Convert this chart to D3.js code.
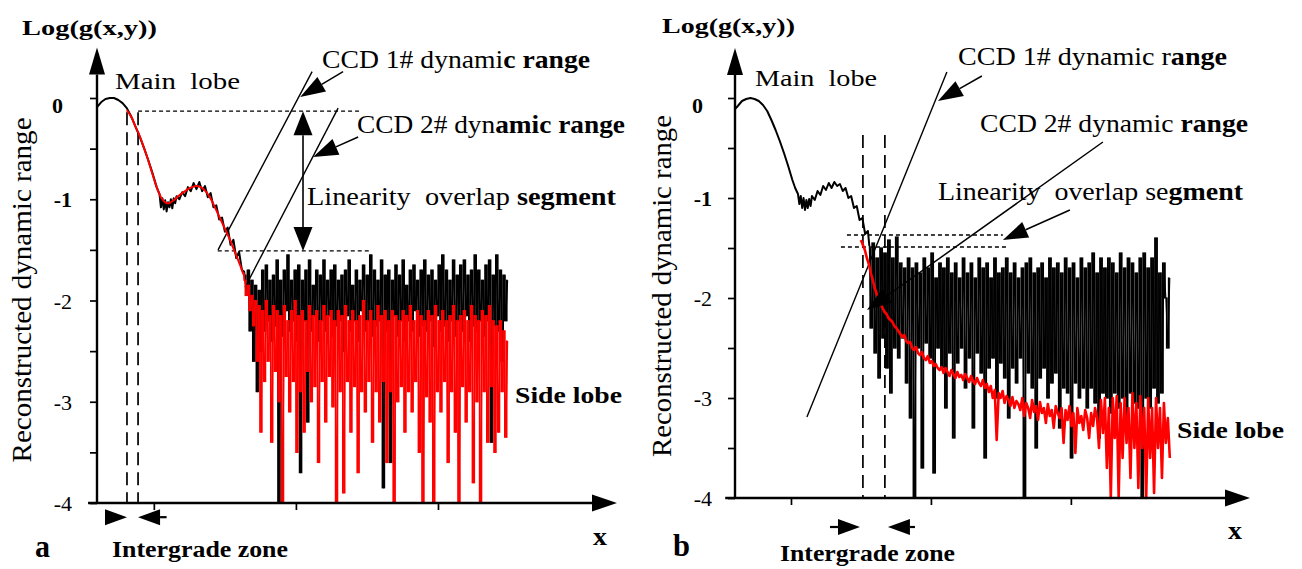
<!DOCTYPE html>
<html><head><meta charset="utf-8">
<script src="https://cdn.jsdelivr.net/npm/d3@7"></script>
<style>
body{margin:0;background:#fff}
text{font-family:"Liberation Serif","Times New Roman",serif;white-space:pre;fill:#000}
</style>
</head><body>
<svg id="chart" width="1302" height="569"></svg>
<script>
// ---------------- DATA ----------------
const yTickValues = [0,-0.5,-1,-1.5,-2,-2.5,-3,-3.5,-4];
const yMajorValues = [0,-1,-2,-3,-4];
const yMajorLabels = ["0","-1","-2","-3","-4"];
const yLabelBold = [true,true,false,false,false];
const xTicksA = [40,140,240];
const xTicksB = [40,140,240];

// Panel a : black smooth part (main lobe + first side lobe)
const blackA_smX = [0,3,6,9,12,15,18,21,24,27,30,33,36,39,42,44,45,46,47,48,49,50,51,52,53,54,55,56,58,60,62,64,66,68,70,72,74,76,78,80,82,84,86,88,90,92,94,96,98,100,102,104];
const blackA_smY = [-0.09,-0.04,-0.01,0,0,-0.02,-0.05,-0.1,-0.18,-0.28,-0.38,-0.49,-0.61,-0.74,-0.88,-0.95,-1.08,-0.99,-1.1,-1.01,-1.12,-1.03,-1.08,-1.0,-1.09,-0.99,-1.04,-0.97,-1.0,-0.93,-0.97,-0.88,-0.92,-0.84,-0.9,-0.83,-0.92,-0.87,-0.98,-0.94,-1.08,-1.06,-1.2,-1.18,-1.32,-1.28,-1.45,-1.4,-1.58,-1.52,-1.7,-1.72];
// Panel a : red smooth part
const redA_smX = [21,23,25,27,29,31,33,35,37,39,41,43,45,47,49,51,53,55,57,59,61,63,65,67,69,71,73,75,77,79,81,83,85,87,89,91,93,95,97,99,101,103];
const redA_smY = [-0.12,-0.16,-0.21,-0.28,-0.34,-0.41,-0.49,-0.57,-0.66,-0.75,-0.84,-0.92,-0.98,-1.02,-1.04,-1.04,-1.02,-1.0,-0.97,-0.95,-0.93,-0.91,-0.89,-0.88,-0.87,-0.87,-0.88,-0.9,-0.93,-0.97,-1.02,-1.08,-1.14,-1.2,-1.26,-1.32,-1.38,-1.45,-1.52,-1.59,-1.66,-1.74];
// Panel a : noisy side-lobe region, evenly spaced samples from x=104 to x=289
const noiseA_range = [104,289];
const blackA_noise = [
-1.75,-1.95,-1.7,-2.3,-1.8,-2.6,-1.85,-2.9,-1.9,-2.5,
-1.7,-2.3,-1.65,-2.2,-1.8,-2.4,-1.75,-2.25,-1.6,-4.0,
-1.8,-2.35,-1.7,-2.1,-1.55,-2.3,-1.8,-2.2,-1.7,-2.4,
-1.65,-3.7,-1.8,-2.2,-1.7,-3.2,-1.6,-2.3,-1.85,-2.15,
-1.7,-2.4,-1.75,-2.2,-1.6,-2.3,-1.8,-2.15,-1.7,-2.35,
-1.65,-2.25,-1.8,-2.2,-1.75,-2.5,-1.7,-2.15,-1.6,-2.3,
-1.85,-2.2,-1.7,-2.4,-1.8,-2.1,-1.65,-2.3,-1.75,-2.2,
-1.55,-2.35,-1.7,-2.25,-1.8,-2.2,-1.6,-3.85,-1.75,-2.3,
-1.7,-3.6,-1.8,-2.15,-1.65,-2.35,-1.75,-2.2,-1.6,-2.4,
-1.85,-2.2,-1.7,-2.3,-1.65,-2.1,-1.8,-2.35,-1.7,-2.25,
-1.6,-2.3,-1.75,-2.2,-1.7,-2.45,-1.8,-2.15,-1.65,-2.3,
-1.55,-2.25,-1.7,-2.4,-1.8,-2.2,-1.6,-2.35,-1.75,-2.2,
-1.65,-2.3,-1.6,-2.15,-1.75,-2.4,-1.7,-2.25,-1.55,-2.3,
-1.7,-2.2,-1.8,-2.35,-1.65,-2.2,-1.6,-3.4,-1.75,-2.25,
-1.55,-2.3,-1.7,-2.6,-1.75,-2.2,-1.8];
const redA_noise = [
-1.8,-1.95,-1.85,-2.1,-1.95,-2.25,-2.0,-2.6,-2.05,-3.3,
-2.1,-2.8,-2.0,-2.6,-2.15,-3.4,-2.05,-2.7,-2.1,-3.0,
-2.15,-4.0,-2.05,-2.75,-2.2,-3.1,-2.1,-2.8,-2.0,-3.5,
-2.15,-2.9,-2.1,-3.3,-2.2,-2.7,-2.05,-3.0,-2.15,-2.85,
-2.1,-3.6,-2.2,-2.8,-2.05,-3.2,-2.15,-2.75,-2.1,-3.05,
-2.2,-4.0,-2.1,-2.9,-2.15,-3.9,-2.05,-2.8,-2.2,-3.3,
-2.1,-2.85,-2.2,-3.7,-2.15,-2.9,-2.0,-3.1,-2.2,-2.8,
-2.1,-3.4,-2.2,-2.9,-2.05,-3.2,-2.15,-2.8,-2.1,-3.6,
-2.2,-2.9,-2.1,-4.0,-2.15,-3.0,-2.2,-2.85,-2.1,-3.3,
-2.15,-2.9,-2.05,-3.1,-2.2,-2.8,-2.1,-3.5,-2.15,-4.0,
-2.2,-2.95,-2.1,-3.2,-2.15,-4.0,-2.05,-2.9,-2.2,-3.1,
-2.1,-2.8,-2.2,-3.6,-2.15,-2.9,-2.05,-3.3,-2.2,-4.0,
-2.15,-2.85,-2.1,-3.2,-2.2,-2.9,-2.05,-3.8,-2.15,-3.0,
-2.2,-4.0,-2.1,-2.9,-2.15,-3.4,-2.05,-2.85,-2.2,-3.5,
-2.25,-3.3,-2.2,-2.9,-2.3,-3.35,-2.4];

// Panel b : black smooth part
const blackB_smX = [0,2,5,8,11,14,17,20,23,26,29,32,35,38,41,43,45,46,47,48,49,50,51,52,53,54,55,57,59,61,63,65,67,69,71,73,75,77,79,81,83,85,87,89,91,93,95,96];
const blackB_smY = [-0.11,-0.08,-0.03,-0.01,0,-0.01,-0.03,-0.07,-0.13,-0.22,-0.32,-0.43,-0.55,-0.68,-0.82,-0.9,-0.96,-1.06,-0.98,-1.1,-1.0,-1.12,-1.02,-1.1,-1.01,-1.08,-0.98,-1.02,-0.93,-0.97,-0.88,-0.92,-0.85,-0.9,-0.84,-0.88,-0.86,-0.93,-0.9,-1.0,-0.98,-1.1,-1.08,-1.22,-1.2,-1.36,-1.33,-1.48];
// Panel b : black noisy region, evenly spaced from x=96 to x=310.7
const blackB_range = [96,310.7];
const blackB_noise = [
-1.5,-2.3,-1.45,-2.55,-1.6,-2.8,-1.5,-2.4,-1.55,-2.7,
-1.42,-2.95,-1.6,-2.5,-1.39,-2.6,-1.65,-2.4,-1.7,-2.85,
-1.6,-3.2,-1.7,-4.0,-1.65,-2.5,-1.75,-3.7,-1.6,-2.45,
-1.7,-2.6,-1.55,-3.75,-1.8,-2.5,-1.65,-2.7,-1.7,-3.1,
-1.6,-2.55,-1.75,-3.4,-1.65,-2.65,-1.8,-2.5,-1.6,-2.9,
-1.75,-2.6,-1.65,-3.3,-1.8,-2.55,-1.6,-2.75,-1.7,-3.6,
-1.65,-2.7,-1.8,-2.6,-1.6,-3.0,-1.75,-2.65,-1.7,-2.8,
-1.6,-3.2,-1.75,-2.7,-1.65,-2.85,-1.8,-2.6,-1.7,-4.0,
-1.65,-2.75,-1.6,-2.9,-1.75,-3.5,-1.7,-2.8,-1.65,-2.7,
-1.8,-3.0,-1.6,-2.85,-1.7,-2.75,-1.65,-3.3,-1.75,-2.9,
-1.6,-2.95,-1.7,-3.6,-1.65,-2.85,-1.8,-3.0,-1.6,-2.9,
-1.7,-3.1,-1.65,-2.9,-1.55,-3.05,-1.75,-3.4,-1.6,-2.95,
-1.7,-3.0,-1.6,-3.15,-1.65,-2.95,-1.75,-3.1,-1.55,-3.0,
-1.7,-3.2,-1.6,-2.95,-1.65,-3.05,-1.75,-3.1,-1.6,-4.0,
-1.55,-3.0,-1.7,-3.1,-1.6,-2.9,-1.4,-3.05,-1.75,-2.95,
-1.65,-2.0,-2.5,-1.8];
// Panel b : red curve, evenly spaced from x=90 to x=310.7
const redB_range = [90,310.7];
const redB_values = [
-1.42,-1.47,-1.52,-1.6,-1.66,-1.75,-1.82,-1.9,-1.96,-2.02,-2.06,-2.1,-2.14,-2.16,-2.2,-2.22,-2.24,-2.28,-2.3,-2.33,
-2.36,-2.39,-2.37,-2.43,-2.45,-2.44,-2.5,-2.52,-2.49,-2.55,-2.57,-2.54,-2.6,-2.62,-2.58,-2.65,-2.63,-2.68,-2.66,-2.7,
-2.72,-2.69,-2.75,-2.7,-2.74,-2.78,-2.72,-2.76,-2.8,-2.74,-2.79,-2.77,-2.82,-2.76,-2.8,-2.84,-2.78,-2.83,-2.86,-2.8,
-2.85,-2.88,-2.82,-2.9,-2.86,-2.94,-2.88,-3.0,-2.92,-3.42,-2.95,-3.0,-2.93,-3.05,-2.98,-3.02,-3.08,-2.99,-3.1,-3.03,
-3.06,-3.12,-3.0,-3.18,-3.05,-3.1,-3.2,-3.02,-3.14,-3.08,-3.22,-3.04,-3.15,-3.1,-3.25,-3.06,-3.18,-3.12,-3.3,-3.08,
-3.15,-3.2,-3.1,-3.45,-3.12,-3.22,-3.08,-3.28,-3.15,-3.55,-3.1,-3.25,-3.18,-3.32,-3.12,-3.2,-3.4,-3.15,-3.28,-3.1,
-3.2,-3.5,-3.02,-3.35,-3.0,-3.7,-3.1,-4.0,-3.0,-3.4,-2.98,-4.0,-3.05,-3.6,-3.0,-3.45,-3.1,-3.8,-2.95,-3.5,
-3.05,-3.9,-2.98,-3.5,-3.1,-4.0,-3.0,-3.6,-3.1,-3.95,-3.0,-3.5,-3.1,-3.8,-3.05,-3.45,-3.2,-3.6];

// ---------------- ANNOTATIONS (data units) ----------------
const annA = {
  dashedX:[21.1,28.9], dashedTop:-0.14,
  dotted:[[-0.13,28.9,185],[-1.51,85,192]],
  doubleArrow:[145,-0.13,-1.51],
  lines:[[[85.2,-1.50],[151.4,0.26]],[[104.2,-1.87],[169.7,-0.10]]],
  arrows:[[[173.2,0.26],[143,0.01]],[[183.8,-0.385],[152.1,-0.583]]],
  interV:-4.14, interL:[5.6,21.1], interR:[49,28.9], xStart:-6.3
};
const annB = {
  dashedX:[91.4,107.1], dashedTop:-0.37,
  dotted:[[-1.37,80,191.4],[-1.49,75.7,194.3]],
  doubleArrow:null,
  lines:[[[51.4,-3.19],[151.4,0.26]]],
  arrows:[[[176.4,0.22],[145,-0.03]],[[262.9,-0.44],[94.3,-2.12]],[[239.3,-1.12],[191.4,-1.42]]],
  interV:-4.29, interL:[67.9,89.3], interR:[128.6,109.3], xStart:-7
};

// ---------------- TEXTS ----------------
const textsA = [
  {p:[["Log(g(x,y))",1]],x:22,y:35,fs:22,w:135},
  {p:[["Main  lobe",0]],x:115,y:89,fs:24,w:125},
  {p:[["CCD 1# dynami",0],["c range",1]],x:322,y:68,fs:25,w:268},
  {p:[["CCD 2# dyn",0],["amic range",1]],x:357,y:133,fs:25,w:268},
  {p:[["Linearity  overlap ",0],["segment",1]],x:307,y:205,fs:25,w:309},
  {p:[["Side lobe",1]],x:515,y:403,fs:23,w:107},
  {p:[["a",1]],x:35,y:557,fs:31,w:15},
  {p:[["Intergrade zone",1]],x:112,y:557,fs:24,w:176},
  {p:[["x",1]],x:593,y:545,fs:25,w:14}
];
const textsB = [
  {p:[["Log(g(x,y))",1]],x:662,y:33,fs:22,w:133},
  {p:[["Main  lobe",0]],x:755,y:86,fs:24,w:122},
  {p:[["CCD 1# dynamic r",0],["ange",1]],x:958,y:65,fs:25,w:269},
  {p:[["CCD 2# dynamic ",0],["range",1]],x:980,y:132,fs:25,w:268},
  {p:[["Linearity  overlap se",0],["gment",1]],x:938,y:200,fs:25,w:305},
  {p:[["Side lobe",1]],x:1177,y:438,fs:23,w:107},
  {p:[["b",1]],x:673,y:556,fs:31,w:17},
  {p:[["Intergrade zone",1]],x:780,y:561,fs:24,w:175},
  {p:[["x",1]],x:1228,y:539,fs:25,w:14}
];
const yTitle = "Reconstructed dynamic range";

// ---------------- DRAW ----------------
const svg = d3.select("#chart");

function head(g,x1,y1,x2,y2,len,hw){
  const dx=x2-x1, dy=y2-y1, d=Math.hypot(dx,dy), ux=dx/d, uy=dy/d;
  const bx=x2-ux*len, by=y2-uy*len;
  g.append("path").attr("d",`M${x2},${y2}L${bx-uy*hw},${by+ux*hw}L${bx+uy*hw},${by-ux*hw}Z`).attr("fill","#000");
  return [bx,by];
}
function arrow(g,x1,y1,x2,y2,len,hw,sw){
  const b = head(g,x1,y1,x2,y2,len,hw);
  g.append("line").attr("x1",x1).attr("y1",y1).attr("x2",b[0]).attr("y2",b[1]).attr("stroke","#000").attr("stroke-width",sw);
}
function seriesPts(xs,ys){ return xs.map((u,i)=>[u,ys[i]]); }
function evenPts(range,vals){
  const st=(range[1]-range[0])/(vals.length-1);
  return vals.map((v,i)=>[range[0]+i*st,v]);
}

function drawPanel(P){
  const g = svg.append("g");
  const x = d3.scaleLinear().domain([0,P.xMax]).range(P.xRange);
  const y = d3.scaleLinear().domain([-4,0]).range(P.yRange);
  const yc = v=>y(Math.max(-4,v));
  const line = d3.line().x(d=>x(d[0])).y(d=>yc(d[1]));
  const A = P.ann;

  A.dashedX.forEach(u=>{
    g.append("line").attr("x1",x(u)).attr("x2",x(u)).attr("y1",y(A.dashedTop)).attr("y2",y(-4))
      .attr("stroke","#000").attr("stroke-width",1.7).attr("stroke-dasharray","13,7");
  });
  A.dotted.forEach(d=>{
    g.append("line").attr("x1",x(d[1])).attr("x2",x(d[2])).attr("y1",y(d[0])).attr("y2",y(d[0]))
      .attr("stroke","#000").attr("stroke-width",1.3).attr("stroke-dasharray","4,3");
  });
  A.lines.forEach(l=>{
    g.append("line").attr("x1",x(l[0][0])).attr("y1",y(l[0][1])).attr("x2",x(l[1][0])).attr("y2",y(l[1][1]))
      .attr("stroke","#000").attr("stroke-width",1.4);
  });

  // dense trace: each sample interval drawn as the vertical sweep of the trace
  function trace(s,color){
    if(s.dense){
      const pr = d3.pairs(s.pts).filter(d=>d[1][0]>d[0][0]);
      const w = (x(pr[1][1][0])-x(pr[1][0][0]))*s.frac;
      g.append("g").selectAll("rect").data(pr).join("rect")
        .attr("x",d=>x(d[0][0])).attr("width",w)
        .attr("y",d=>Math.min(yc(d[0][1]),yc(d[1][1]))-0.6)
        .attr("height",d=>Math.abs(yc(d[0][1])-yc(d[1][1]))+1.2)
        .attr("fill",color);
    }
    g.append("path").attr("d",line(s.pts)).attr("fill","none").attr("stroke",color).attr("stroke-width",s.w).attr("stroke-linejoin","round");
  }
  P.black.forEach(s=>trace(s,"#000"));
  P.red.forEach(s=>trace(s,"#ff0000"));

  A.arrows.forEach(a=>arrow(g,x(a[0][0]),y(a[0][1]),x(a[1][0]),y(a[1][1]),25,8.5,1.5));
  if(A.doubleArrow){
    const [u,v0,v1]=A.doubleArrow;
    const xm=x(u);
    const t1=head(g,xm,y(v1),xm,y(v0),24,9.5);
    const t2=head(g,xm,y(v0),xm,y(v1),24,9.5);
    g.append("line").attr("x1",xm).attr("x2",xm).attr("y1",t1[1]).attr("y2",t2[1]).attr("stroke","#000").attr("stroke-width",1.6);
  }
  const iy=y(A.interV);
  arrow(g,x(A.interL[0]),iy,x(A.interL[1]),iy,22,8,2.2);
  arrow(g,x(A.interR[0]),iy,x(A.interR[1]),iy,22,8,2.2);

  // axes
  const yAx = d3.axisLeft(y).tickValues(yTickValues).tickSize(7).tickFormat("");
  g.append("g").attr("transform",`translate(${x(0)},0)`).call(yAx)
    .call(s=>s.select(".domain").remove())
    .selectAll("line").attr("stroke","#000").attr("stroke-width",1.7);
  const xAx = d3.axisBottom(x).tickValues(P.xTicks).tickSize(7).tickFormat("");
  g.append("g").attr("transform",`translate(0,${y(-4)})`).call(xAx)
    .call(s=>s.select(".domain").remove())
    .selectAll("line").attr("stroke","#000").attr("stroke-width",1.7);
  const yTip = y(0.5);
  const yb = head(g,x(0),y(-4),x(0),yTip,27,8);
  g.append("line").attr("x1",x(0)).attr("x2",x(0)).attr("y1",y(-4)).attr("y2",yb[1]).attr("stroke","#000").attr("stroke-width",2.4);
  const xb = head(g,x(0),y(-4),x(P.xMax),y(-4),25,8.5);
  g.append("line").attr("x1",x(A.xStart)).attr("x2",xb[0]).attr("y1",y(-4)).attr("y2",y(-4)).attr("stroke","#000").attr("stroke-width",2.4);

  yMajorValues.forEach((v,i)=>{
    g.append("text").attr("x",x(0)-P.labelGap + (v===0?-9:0)).attr("y",y(v)+8+(v===0?7:0))
      .attr("text-anchor","end").attr("font-size",22)
      .attr("font-weight",yLabelBold[i]?"bold":"normal").text(yMajorLabels[i]);
  });

  P.texts.forEach(t=>{
    const tx=g.append("text").attr("x",t.x).attr("y",t.y).attr("font-size",t.fs)
      .attr("textLength",t.w).attr("lengthAdjust","spacingAndGlyphs");
    t.p.forEach(p=>tx.append("tspan").attr("font-weight",p[1]?"bold":"normal").text(p[0]));
  });
  g.append("text").attr("transform",`translate(${P.titleX},${P.titleY}) rotate(-90)`)
    .attr("text-anchor","middle").attr("font-size",28)
    .attr("textLength",P.titleW).attr("lengthAdjust","spacingAndGlyphs").text(yTitle);
}

function joined(smX,smY,range,noise){
  const s=seriesPts(smX,smY);
  return {smooth:s, noise:[s[s.length-1]].concat(evenPts(range,noise))};
}
const bA = joined(blackA_smX,blackA_smY,noiseA_range,blackA_noise);
const rA = joined(redA_smX,redA_smY,noiseA_range,redA_noise);
const bB = joined(blackB_smX,blackB_smY,blackB_range,blackB_noise);

drawPanel({
  xMax:366, xRange:[97,617], yRange:[503,98], xTicks:xTicksA, ann:annA, labelGap:25,
  black:[{pts:bA.smooth,w:2},{pts:bA.noise,w:1.2,dense:true,frac:1.0}],
  red:[{pts:rA.smooth,w:2},{pts:rA.noise,w:1.2,dense:true,frac:0.95}],
  texts:textsA, titleX:31, titleY:290, titleW:345
});
drawPanel({
  xMax:368, xRange:[735,1250], yRange:[498,98], xTicks:xTicksB, ann:annB, labelGap:23,
  black:[{pts:bB.smooth,w:2},{pts:bB.noise,w:1.1,dense:true,frac:0.95}],
  red:[{pts:evenPts(redB_range,redB_values),w:2.6}],
  texts:textsB, titleX:671, titleY:286, titleW:342
});
</script>
</body></html>
